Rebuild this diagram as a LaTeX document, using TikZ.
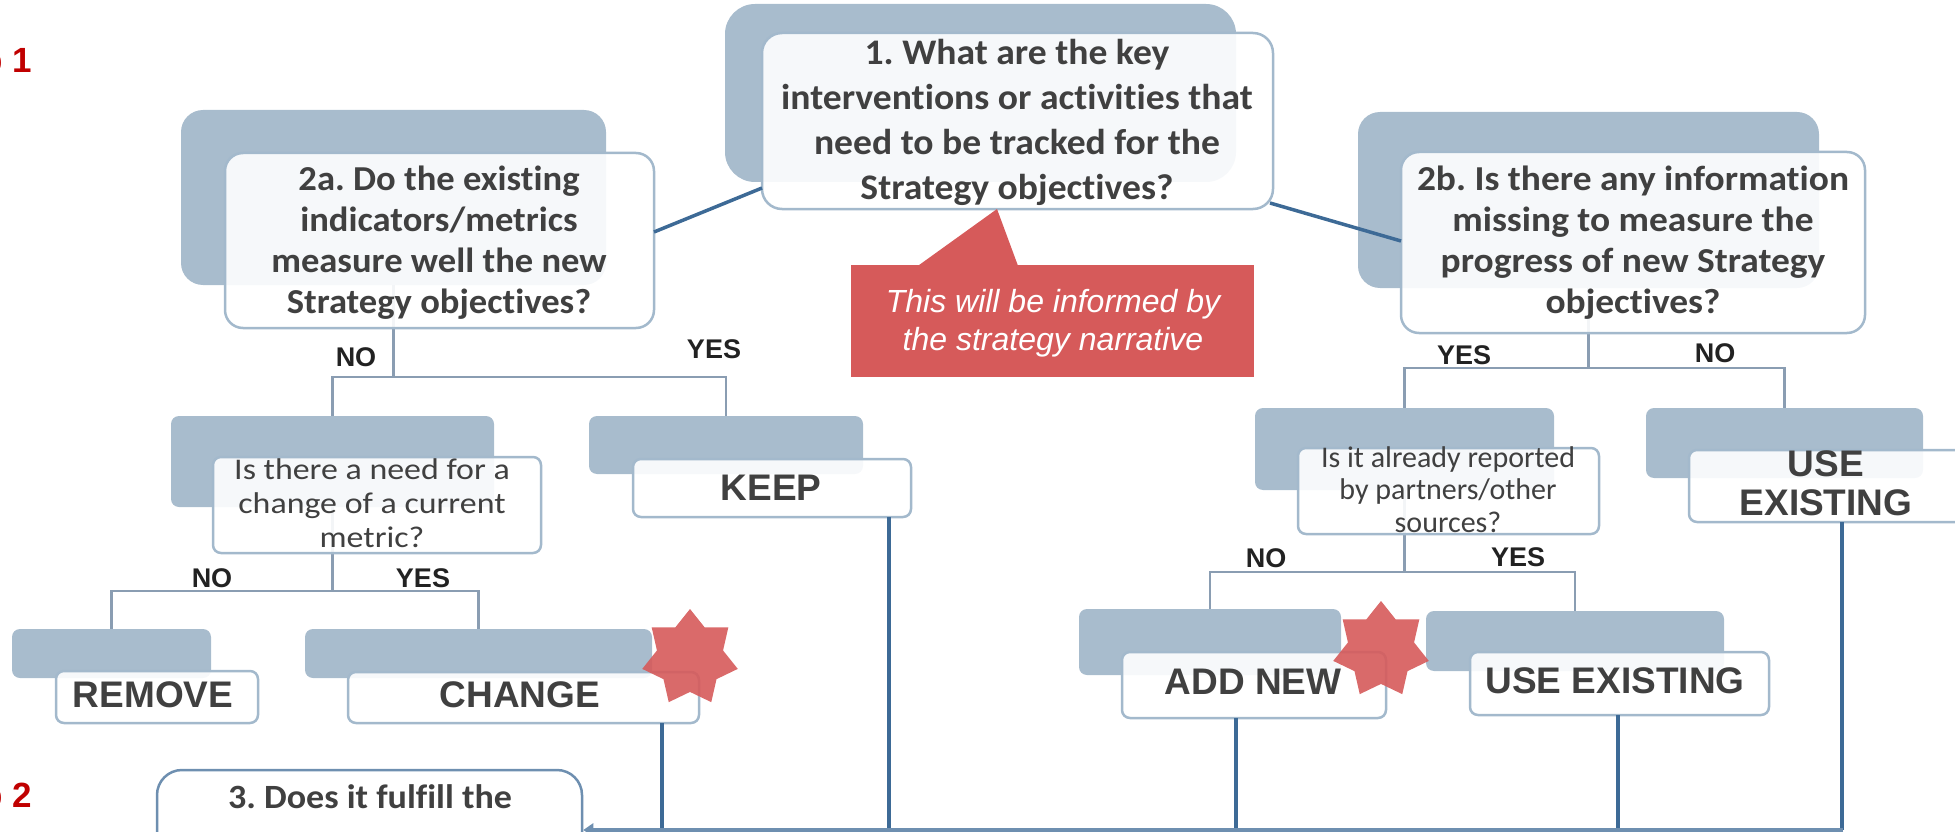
\documentclass[tikz,border=0pt]{standalone}
\usepackage{fontspec}
\setmainfont{Carlito}[Ligatures=NoCommon]
\newfontfamily\arialf{Liberation Sans}
\newfontfamily\qbigf{Carlito}[FakeStretch=1.045,Ligatures=NoCommon]
\newfontfamily\qleftf{Carlito}[FakeStretch=1.045,Ligatures=NoCommon]
\newfontfamily\qrightf{Carlito}[FakeStretch=1.07,Ligatures=NoCommon]
\newfontfamily\qonef{Carlito}[FakeStretch=1.13,Ligatures=NoCommon]
\newfontfamily\qtwof{Carlito}[Ligatures=NoCommon]
\newfontfamily\qlastf{Carlito}[FakeStretch=1.06,Ligatures=NoCommon]
\usetikzlibrary{shapes.geometric,arrows.meta}

\definecolor{shade}{HTML}{A8BCCD}
\definecolor{frame}{HTML}{A3B9CC}
\definecolor{ink}{HTML}{404040}
\definecolor{answer}{HTML}{222222}
\definecolor{tree}{HTML}{8A9DB2}
\definecolor{link}{HTML}{3D6A96}
\definecolor{busc}{HTML}{6E8FB0}
\definecolor{alert}{HTML}{D65A5A}
\definecolor{stepred}{HTML}{C00000}

\newcommand\BigQFont{\qbigf\fontsize{36}{45}\selectfont\bfseries}
\newcommand\LeftQFont{\qleftf\fontsize{35}{41}\selectfont\bfseries}
\newcommand\RightQFont{\qrightf\fontsize{35}{41}\selectfont\bfseries}
\newcommand\OneQFont{\qonef\fontsize{30}{34}\selectfont}
\newcommand\TwoQFont{\qtwof\fontsize{30}{32.5}\selectfont}
\newcommand\TagFont{\arialf\bfseries\fontsize{37}{39}\selectfont}
\newcommand\AnsFont{\arialf\bfseries\fontsize{27}{30}\selectfont}
\newcommand\NoteFont{\arialf\itshape\fontsize{32}{38}\selectfont}
\newcommand\StepFont{\arialf\bfseries\fontsize{35}{40}\selectfont}
\newcommand\LastQFont{\qlastf\fontsize{34}{38}\selectfont\bfseries}

\begin{document}
\frenchspacing
\begin{tikzpicture}[x=1pt,y=-1pt,
  shadowbox/.style={fill=shade,draw=none,rounded corners=#1,inner sep=0pt,outer sep=0pt},
  shadowbox/.default=8pt,
  frontbox/.style={fill=white,fill opacity=0.9,draw=frame,line width=2.5pt,rounded corners=#1,inner sep=0pt,outer sep=0pt},
  frontbox/.default=8pt,
  qtext/.style={text=ink,align=center,inner sep=0pt},
  tagtext/.style={text=ink,inner sep=0pt,font=\TagFont},
  ans/.style={text=answer,inner sep=0pt,font=\AnsFont},
  treeline/.style={draw=tree,line width=2.5pt},
  linkline/.style={draw=link,line width=3.5pt},
  busline/.style={draw=busc,line width=4pt,-{Triangle[length=10pt,width=13pt]}},
  burst/.style={star,star points=7,star point ratio=1.445,minimum size=98pt,inner sep=0pt,fill=alert,fill opacity=0.9,draw=none},
]
\useasboundingbox (0,0) rectangle (1955,832);

% back plates
\node[shadowbox=30pt,minimum width=511pt,minimum height=178pt] (s1) at (980.5,93) {};
\node[shadowbox=22pt,minimum width=425pt,minimum height=175pt] (sA) at (393.5,197.5) {};
\node[shadowbox=22pt,minimum width=461pt,minimum height=176pt] (sB) at (1588.5,200) {};
\node[shadowbox,minimum width=323pt,minimum height=91pt] (sQ1) at (332.5,461.5) {};
\node[shadowbox,minimum width=274pt,minimum height=58pt] (sK) at (726,445) {};
\node[shadowbox,minimum width=199pt,minimum height=49pt] (sR) at (111.5,653.5) {};
\node[shadowbox,minimum width=347pt,minimum height=49pt] (sC) at (478.5,653.5) {};
\node[shadowbox,minimum width=299pt,minimum height=82pt] (sQ2) at (1404.5,449) {};
\node[shadowbox,minimum width=277pt,minimum height=70pt] (sU) at (1784.5,443) {};
\node[shadowbox,minimum width=262pt,minimum height=66pt] (sN) at (1210,642) {};
\node[shadowbox,minimum width=298pt,minimum height=60pt] (sM) at (1575,641) {};

% decision trees
\draw[treeline] (sA.south) -- ++(0,92) -| (sQ1.north);
\draw[treeline] (sA.south) ++(0,92) -| (sK.north);
\draw[treeline] (sB.south) -- ++(0,80) -| (sQ2.north);
\draw[treeline] (sB.south) ++(0,80) -| (sU.north);
\draw[treeline] (sQ1.south) -- ++(0,84) -| (sR.north);
\draw[treeline] (sQ1.south) ++(0,84) -| (sC.north);
\draw[treeline] (sQ2.south) -- ++(0,82) -| (sN.north);
\draw[treeline] (sQ2.south) ++(0,82) -| (sM.north);

% front plates
\node[frontbox=20pt,minimum width=511pt,minimum height=176pt] (f1) at (1017.5,121) {};
\node[frontbox=18pt,minimum width=429pt,minimum height=175pt] (fA) at (439.5,240.5) {};
\node[frontbox=18pt,minimum width=464pt,minimum height=181pt] (fB) at (1633,242.5) {};
\node[frontbox,minimum width=328pt,minimum height=96pt] (fQ1) at (377,505) {};
\node[frontbox,minimum width=278pt,minimum height=58pt] (fK) at (772,488) {};
\node[frontbox,minimum width=202pt,minimum height=52pt] (fR) at (157,697) {};
\node[frontbox,minimum width=351pt,minimum height=51pt] (fC) at (523.5,697.5) {};
\node[frontbox,minimum width=301pt,minimum height=86pt] (fQ2) at (1448.5,491) {};
\node[frontbox,minimum width=277pt,minimum height=72pt] (fU) at (1827.5,486) {};
\node[frontbox,minimum width=264pt,minimum height=66pt] (fN) at (1254,685) {};
\node[frontbox,minimum width=299pt,minimum height=63pt] (fM) at (1619.5,683.5) {};

% links from the first question
\draw[linkline] ([yshift=21pt]f1.south west) -- ([yshift=96pt]fA.south east);
\draw[linkline] ([xshift=-3pt,yshift=6pt]f1.south east) -- ([yshift=92pt]fB.south west);

% collecting bus to question 3
\node[fill=white,draw=busc,line width=2.5pt,rounded corners=25pt,inner sep=0pt,minimum width=425pt,minimum height=160pt] (f3) at (369.5,850) {};
\coordinate (busR) at (1843,830);
\draw[linkline] ([xshift=138.5pt]fC.south) -- ([xshift=138.5pt]fC.south |- busR);
\draw[linkline] ([xshift=117pt]fK.south) -- ([xshift=117pt]fK.south |- busR);
\draw[linkline] ([xshift=-18pt]fN.south) -- ([xshift=-18pt]fN.south |- busR);
\draw[linkline] ([xshift=-1.5pt]fM.south) -- ([xshift=-1.5pt]fM.south |- busR);
\draw[linkline] ([xshift=14.5pt]fU.south) -- ([xshift=14.5pt]fU.south |- busR);
\draw[busline] (busR) -- (f3.east |- busR);

% callout
\node[fill=alert,inner sep=0pt,minimum width=403pt,minimum height=112pt] (note) at (1052.5,321) {};
\fill[alert] ([xshift=-134.5pt,yshift=-1pt]note.north) -- ([xshift=-20.5pt]f1.south) -- ([xshift=-34.5pt,yshift=-1pt]note.north) -- cycle;
\node[text=white,align=center,inner sep=0pt,font=\NoteFont] (noteText) at (1053,324) {\strut This will be informed by\\\strut the strategy narrative};

% stars
\node[burst] (star1) at (690,658) {};
\node[burst] (star2) at (1381,650) {};

% question texts
\node[qtext,font=\BigQFont] (t1) at (1017,123.5) {\strut 1. What are the key\\\strut interventions or activities that\\\strut need to be tracked for the\\\strut Strategy objectives?};
\node[qtext,font=\LeftQFont] (tA) at (439,243.3) {\strut 2a. Do the existing\\\strut indicators/metrics\\\strut measure well the new\\\strut Strategy objectives?};
\node[qtext,font=\RightQFont] (tB) at (1633,243.3) {\strut 2b. Is there any information\\\strut missing to measure the\\\strut progress of new Strategy\\\strut objectives?};
\node[qtext,font=\OneQFont] (tQ1) at (372,506.2) {\strut Is there a need for a\\\strut change of a current\\\strut metric?};
\node[qtext,font=\TwoQFont] (tQ2) at (1448,493) {\strut Is it already reported\\\strut by partners/other\\\strut sources?};
\node[qtext,font=\LastQFont,anchor=base] (t3) at (370,808) {3. Does it fulfill the};

% outcome labels
\node[tagtext] (tR) at (153,694.5) {REMOVE};
\node[tagtext] (tC) at (520,695) {CHANGE};
\node[tagtext] (tK) at (771,488) {KEEP};
\node[tagtext] (tN) at (1253,681.5) {ADD NEW};
\node[tagtext] (tM) at (1615,681) {USE EXISTING};
\node[tagtext,align=center] (tU) at (1826,487.7) {\strut USE\\\strut EXISTING};

% answers
\node[ans] (aA1) at (356,357) {NO};
\node[ans] (aA2) at (714,349) {YES};
\node[ans] (aB1) at (1464,355) {YES};
\node[ans] (aB2) at (1715,353) {NO};
\node[ans] (aQ11) at (212,578) {NO};
\node[ans] (aQ12) at (423,578) {YES};
\node[ans] (aQ21) at (1266,558) {NO};
\node[ans] (aQ22) at (1518,557) {YES};

% step markers
\node[text=stepred,font=\StepFont,inner sep=0pt,anchor=base east] (step1) at (32.5,73) {Step 1};
\node[text=stepred,font=\StepFont,inner sep=0pt,anchor=base east] (step2) at (32.5,807) {Step 2};
\end{tikzpicture}
\end{document}
